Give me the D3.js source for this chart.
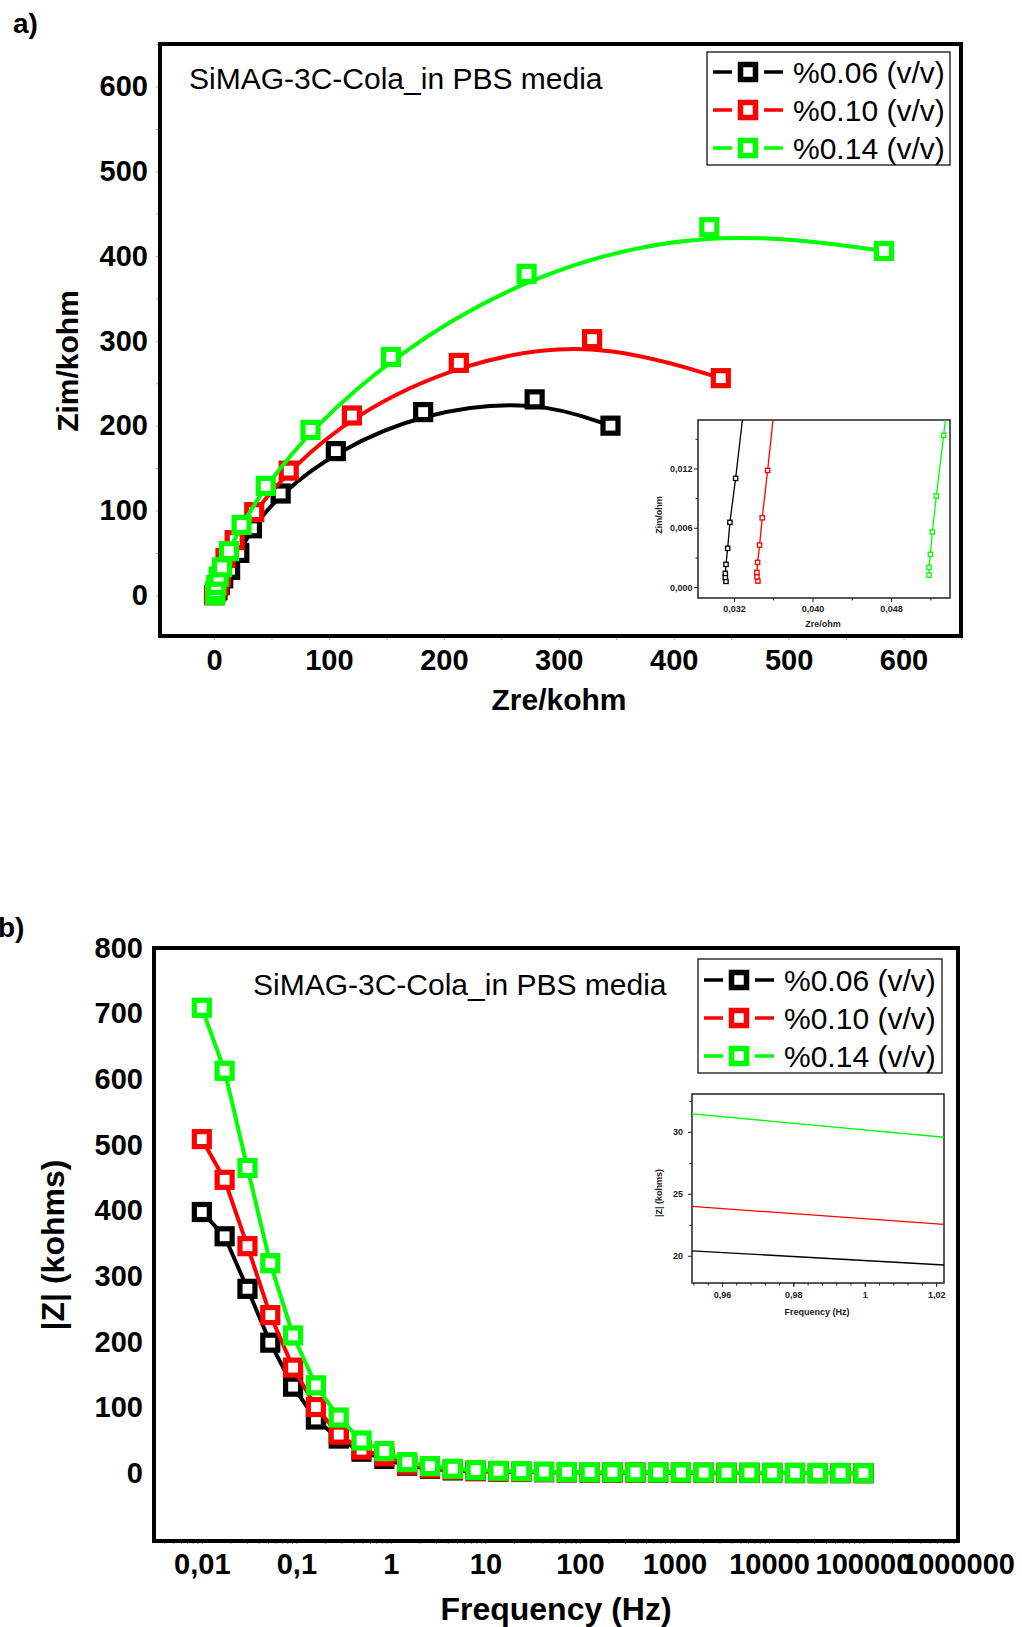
<!DOCTYPE html>
<html>
<head>
<meta charset="utf-8">
<script src="https://cdn.jsdelivr.net/npm/d3@7/dist/d3.min.js"></script>
<style>
  body { margin: 0; background: #fff; }
  svg text { font-family: "Liberation Sans", Arial, sans-serif; }
</style>
</head>
<body>
<div class="chart"></div>
<script>
// series shared by both panels
var seriesNames = ["%0.06 (v/v)", "%0.10 (v/v)", "%0.14 (v/v)"];
var colors = ["#000000", "#ff0000", "#00ff00"];
var titleText = "SiMAG-3C-Cola_in PBS media";

// panel a: Nyquist, kohm
var zre006 = [1, 3, 5, 8, 14, 22, 33, 58, 106, 182, 279, 345];
var zim006 = [2, 6, 12, 20, 30, 50, 79, 120, 170, 216, 231, 200];
var zre010 = [0, 2, 4, 6, 10, 18, 35, 65, 120, 213, 329, 441];
var zim010 = [0, 5, 12, 22, 44, 65, 98, 147, 212, 274, 302, 256];
var zre014 = [1, 1, 2, 4, 7, 13, 24, 45, 84, 154, 272, 431, 583];
var zim014 = [0, 5, 12, 22, 33, 52, 83, 129, 195, 281, 379, 434, 406];
var ticksA = [0, 100, 200, 300, 400, 500, 600];

// panel a inset: high frequency end, ohm
var insRe006 = [0.03119, 0.03112, 0.03112, 0.03119, 0.03136, 0.03159, 0.03217, 0.0334];
var insIm006 = [0.00058, 0.00098, 0.00139, 0.00230, 0.00392, 0.00655, 0.0110, 0.0215];
var insRe010 = [0.03444, 0.03434, 0.03434, 0.03441, 0.03461, 0.03488, 0.03543, 0.0363];
var insIm010 = [0.00061, 0.00104, 0.00149, 0.00250, 0.00425, 0.00701, 0.0118, 0.0200];
var insRe014 = [0.05186, 0.05186, 0.05200, 0.05220, 0.05261, 0.05335, 0.0540];
var insIm014 = [0.00121, 0.00199, 0.00331, 0.00557, 0.00921, 0.01535, 0.0210];
var insTicksAx = [0.032, 0.040, 0.048];
var insTicksAy = [0, 0.006, 0.012];

// panel b: Bode |Z|, kohms
var freq = [0.01, 0.01743, 0.03039, 0.05298, 0.09237, 0.1610, 0.2807, 0.4894, 0.8532, 1.487,
            2.593, 4.520, 7.880, 13.74, 23.95, 41.75, 72.79, 126.9, 221.2, 385.7,
            672.4, 1172, 2043, 3562, 6210, 10826, 18874, 32903, 57362, 100000];
var mod006 = [398, 361, 281, 199, 132, 82, 53, 33, 22.0, 11.7,
              7, 4.5, 3.3, 2.6, 2.1, 1.8, 1.5, 1.3, 1.1, 1.0,
              0.9, 0.8, 0.7, 0.6, 0.55, 0.5, 0.45, 0.4, 0.35, 0.3];
var mod010 = [509, 447, 346, 241, 161, 101, 59, 36, 26.0, 13.0,
              8, 5.5, 4, 3, 2.5, 2.1, 1.8, 1.5, 1.3, 1.2,
              1.1, 1.0, 0.9, 0.8, 0.7, 0.6, 0.55, 0.5, 0.45, 0.4];
var mod014 = [709, 613, 465, 320, 210, 134, 85, 50, 34.1, 17.1,
              11, 7, 5, 4, 3.2, 2.6, 2.2, 1.9, 1.7, 1.5,
              1.4, 1.3, 1.2, 1.1, 1.0, 0.9, 0.8, 0.7, 0.6, 0.5];
var ticksBy = [0, 100, 200, 300, 400, 500, 600, 700, 800];
var ticksBx = [0.01, 0.1, 1, 10, 100, 1000, 10000, 100000, 1000000];
var ticksBxLabels = ["0,01", "0,1", "1", "10", "100", "1000", "10000", "100000", "1000000"];
var insTicksBx = [0.96, 0.98, 1.00, 1.02];
var insTicksBxLabels = ["0,96", "0,98", "1", "1,02"];
var insTicksBy = [20, 25, 30];

var comma = function (f) { return function (d) { return d3.format(f)(d).replace(".", ","); }; };

var svg = d3.select(".chart").append("svg")
  .attr("width", 1022).attr("height", 1627)
  .style("background", "#fff");

var defs = svg.append("defs");

function squares(g, pts, color, size, sw) {
  g.selectAll(null).data(pts).enter().append("rect")
    .attr("x", function (d) { return d[0] - size / 2; })
    .attr("y", function (d) { return d[1] - size / 2; })
    .attr("width", size).attr("height", size)
    .attr("fill", "#fff").attr("stroke", color).attr("stroke-width", sw);
}

function legend(x0, y0, w, h, rowY) {
  var lg = svg.append("g");
  lg.append("rect").attr("x", x0).attr("y", y0).attr("width", w).attr("height", h)
    .attr("fill", "#fff").attr("stroke", "#000").attr("stroke-width", 1.2);
  seriesNames.forEach(function (name, i) {
    var cy = y0 + rowY[i];
    // dash - marker - dash
    [[x0 + 6, x0 + 25], [x0 + 57, x0 + 76]].forEach(function (seg) {
      lg.append("line").attr("x1", seg[0]).attr("x2", seg[1]).attr("y1", cy).attr("y2", cy)
        .attr("stroke", colors[i]).attr("stroke-width", 3.5);
    });
    squares(lg, [[x0 + 41, cy]], colors[i], 15, 5.5);
    lg.append("text").attr("x", x0 + 86).attr("y", cy).attr("dy", "0.36em")
      .attr("font-size", 30).text(name);
  });
}

// =================== panel a ===================
var xA = d3.scaleLinear().domain([-47, 650]).range([160, 961]);
var yA = d3.scaleLinear().domain([-48, 650]).range([636, 44]);

svg.append("text").attr("x", 13).attr("y", 33).attr("font-size", 28).attr("font-weight", "bold").text("a)");

// minor ticks
svg.append("g").attr("transform", "translate(0,636)")
  .call(d3.axisBottom(xA).tickValues(d3.range(0, 651, 50)).tickSize(4).tickFormat(""))
  .call(function (g) { g.select(".domain").remove(); g.selectAll("line").attr("stroke", "#aaa"); });
svg.append("g").attr("transform", "translate(160,0)")
  .call(d3.axisLeft(yA).tickValues(d3.range(0, 651, 50)).tickSize(4).tickFormat(""))
  .call(function (g) { g.select(".domain").remove(); g.selectAll("line").attr("stroke", "#aaa"); });

svg.append("g").attr("transform", "translate(0,636)")
  .call(d3.axisBottom(xA).tickValues(ticksA).tickSize(0).tickPadding(13))
  .call(function (g) {
    g.select(".domain").remove();
    g.selectAll("text").attr("font-size", 29).attr("font-weight", "bold").attr("fill", "#000")
      .attr("font-family", "Liberation Sans, Arial, sans-serif");
  });
svg.append("g").attr("transform", "translate(160,0)")
  .call(d3.axisLeft(yA).tickValues(ticksA).tickSize(0).tickPadding(12))
  .call(function (g) {
    g.select(".domain").remove();
    g.selectAll("text").attr("font-size", 29).attr("font-weight", "bold").attr("fill", "#000")
      .attr("font-family", "Liberation Sans, Arial, sans-serif");
  });

svg.append("rect").attr("x", 160).attr("y", 44).attr("width", 801).attr("height", 592)
  .attr("fill", "none").attr("stroke", "#000").attr("stroke-width", 4);

svg.append("text").attr("x", 559).attr("y", 710).attr("text-anchor", "middle")
  .attr("font-size", 30).attr("font-weight", "bold").text("Zre/kohm");
svg.append("text").attr("transform", "translate(67,361) rotate(-90)").attr("text-anchor", "middle")
  .attr("dy", "0.36em").attr("font-size", 30).attr("font-weight", "bold").text("Zim/kohm");

svg.append("text").attr("x", 189).attr("y", 89).attr("font-size", 30).text(titleText);

var seriesA = [[zre006, zim006], [zre010, zim010], [zre014, zim014]];
var lineA = d3.line().x(function (d) { return xA(d[0]); }).y(function (d) { return yA(d[1]); })
  .curve(d3.curveBasis);
var plotA = svg.append("g");
seriesA.forEach(function (s, i) {
  var pts = s[0].map(function (v, j) { return [v, s[1][j]]; });
  var g = plotA.append("g");
  g.append("path").attr("d", lineA(pts)).attr("fill", "none")
    .attr("stroke", colors[i]).attr("stroke-width", 4);
  squares(g, pts.map(function (p) { return [xA(p[0]), yA(p[1])]; }), colors[i], 15, 5.2);
});

legend(707, 52, 243, 113, [20, 58, 96]);

// inset a
var xIa = d3.scaleLinear().domain([0.02834, 0.0540]).range([698, 950]);
var yIa = d3.scaleLinear().domain([-0.0011, 0.0169]).range([598, 420]);
defs.append("clipPath").attr("id", "clipIa").append("rect")
  .attr("x", 698).attr("y", 420).attr("width", 252).attr("height", 178);
var insA = svg.append("g");
insA.append("rect").attr("x", 698).attr("y", 420).attr("width", 252).attr("height", 178)
  .attr("fill", "#fff");
insA.append("g").attr("transform", "translate(0,598)")
  .call(d3.axisBottom(xIa).tickValues([0.036, 0.044, 0.052]).tickSize(2.5).tickFormat(""));
insA.append("g").attr("transform", "translate(698,0)")
  .call(d3.axisLeft(yIa).tickValues([0.003, 0.009, 0.015]).tickSize(2.5).tickFormat(""));
insA.append("g").attr("transform", "translate(0,598)")
  .call(d3.axisBottom(xIa).tickValues(insTicksAx).tickSize(4).tickPadding(4).tickFormat(comma(".3f")));
insA.append("g").attr("transform", "translate(698,0)")
  .call(d3.axisLeft(yIa).tickValues(insTicksAy).tickSize(4).tickPadding(1.5).tickFormat(comma(".3f")));
insA.selectAll(".domain").remove();
insA.selectAll("text").attr("font-size", 9).attr("font-weight", "bold").attr("fill", "#222")
  .attr("font-family", "Liberation Sans, Arial, sans-serif");
insA.selectAll(".tick line").attr("stroke", "#222");
insA.append("rect").attr("x", 698).attr("y", 420).attr("width", 252).attr("height", 178)
  .attr("fill", "none").attr("stroke", "#222").attr("stroke-width", 1.5);
insA.append("text").attr("x", 823).attr("y", 627).attr("text-anchor", "middle")
  .attr("font-size", 9).attr("font-weight", "bold").attr("fill", "#222").text("Zre/ohm");
insA.append("text").attr("transform", "translate(662,515) rotate(-90)").attr("text-anchor", "middle")
  .attr("font-size", 9).attr("font-weight", "bold").attr("fill", "#222").text("Zim/ohm");

var seriesIa = [[insRe006, insIm006], [insRe010, insIm010], [insRe014, insIm014]];
var lineIa = d3.line().x(function (d) { return xIa(d[0]); }).y(function (d) { return yIa(d[1]); });
var plotIa = insA.append("g").attr("clip-path", "url(#clipIa)");
seriesIa.forEach(function (s, i) {
  var pts = s[0].map(function (v, j) { return [v, s[1][j]]; });
  plotIa.append("path").attr("d", lineIa(pts)).attr("fill", "none")
    .attr("stroke", colors[i]).attr("stroke-width", 1.3);
  squares(plotIa, pts.map(function (p) { return [xIa(p[0]), yIa(p[1])]; }), colors[i], 4.3, 1.3);
});

// =================== panel b ===================
var xB = d3.scaleLog().domain([Math.pow(10, -2.506), 1e6]).range([154, 958]);
var yB = d3.scaleLinear().domain([-103, 800]).range([1541, 948]);

svg.append("text").attr("x", -2).attr("y", 937).attr("font-size", 28).attr("font-weight", "bold").text("b)");

var minorB = [];
ticksBx.forEach(function (d) { for (var m = 1; m < 10; m++) { if (d * m < 1e6 && d * m > xB.domain()[0]) minorB.push(d * m); } });
minorB.push(0.004, 0.005, 0.006, 0.007, 0.008, 0.009);
svg.append("g").attr("transform", "translate(0,1541)")
  .call(d3.axisBottom(xB).tickValues(minorB).tickSize(3).tickFormat(""))
  .call(function (g) { g.select(".domain").remove(); g.selectAll("line").attr("stroke", "#777"); });

svg.append("g").attr("transform", "translate(0,1541)")
  .call(d3.axisBottom(xB).tickValues(ticksBx).tickSize(0).tickPadding(12)
    .tickFormat(function (d, i) { return ticksBxLabels[i]; }))
  .call(function (g) {
    g.select(".domain").remove();
    g.selectAll("text").attr("font-size", 29).attr("font-weight", "bold").attr("fill", "#000")
      .attr("font-family", "Liberation Sans, Arial, sans-serif");
  });
svg.append("g").attr("transform", "translate(154,0)")
  .call(d3.axisLeft(yB).tickValues(ticksBy).tickSize(0).tickPadding(11))
  .call(function (g) {
    g.select(".domain").remove();
    g.selectAll("text").attr("font-size", 29).attr("font-weight", "bold").attr("fill", "#000")
      .attr("font-family", "Liberation Sans, Arial, sans-serif");
  });

svg.append("rect").attr("x", 154).attr("y", 948).attr("width", 804).attr("height", 593)
  .attr("fill", "none").attr("stroke", "#000").attr("stroke-width", 4);

svg.append("text").attr("x", 556).attr("y", 1620).attr("text-anchor", "middle")
  .attr("font-size", 32).attr("font-weight", "bold").text("Frequency (Hz)");
svg.append("text").attr("transform", "translate(52,1245) rotate(-90)").attr("text-anchor", "middle")
  .attr("dy", "0.36em").attr("font-size", 32).attr("font-weight", "bold").text("|Z| (kohms)");

svg.append("text").attr("x", 253).attr("y", 995).attr("font-size", 30).text(titleText);

var seriesB = [mod006, mod010, mod014];
var lineB = d3.line().x(function (d) { return xB(d[0]); }).y(function (d) { return yB(d[1]); });
var plotB = svg.append("g");
seriesB.forEach(function (s, i) {
  var pts = freq.map(function (f, j) { return [f, s[j]]; });
  var g = plotB.append("g");
  g.append("path").attr("d", lineB(pts)).attr("fill", "none")
    .attr("stroke", colors[i]).attr("stroke-width", 4);
  squares(g, pts.map(function (p) { return [xB(p[0]), yB(p[1])]; }), colors[i], 15, 5.2);
});

legend(698, 959, 244, 114, [21, 59, 97]);

// inset b: zoom around 1 Hz, same data on linear axes
var xIb = d3.scaleLinear().domain([0.9516, 1.0222]).range([692, 944]);
var yIb = d3.scaleLinear().domain([17.8, 33.06]).range([1283, 1094]);
defs.append("clipPath").attr("id", "clipIb").append("rect")
  .attr("x", 692).attr("y", 1094).attr("width", 252).attr("height", 189);
var insB = svg.append("g");
insB.append("rect").attr("x", 692).attr("y", 1094).attr("width", 252).attr("height", 189)
  .attr("fill", "#fff");
insB.append("g").attr("transform", "translate(0,1283)")
  .call(d3.axisBottom(xIb).tickValues(d3.range(0.952, 1.0225, 0.004)).tickSize(2.5).tickFormat(""));
insB.append("g").attr("transform", "translate(692,0)")
  .call(d3.axisLeft(yIb).tickValues([22.5, 27.5, 32.5]).tickSize(2.5).tickFormat(""));
insB.append("g").attr("transform", "translate(0,1283)")
  .call(d3.axisBottom(xIb).tickValues(insTicksBx).tickSize(4).tickPadding(4.5)
    .tickFormat(function (d, i) { return insTicksBxLabels[i]; }));
insB.append("g").attr("transform", "translate(692,0)")
  .call(d3.axisLeft(yIb).tickValues(insTicksBy).tickSize(4).tickPadding(5));
insB.selectAll(".domain").remove();
insB.selectAll("text").attr("font-size", 9).attr("font-weight", "bold").attr("fill", "#222")
  .attr("font-family", "Liberation Sans, Arial, sans-serif");
insB.selectAll(".tick line").attr("stroke", "#222");
insB.append("rect").attr("x", 692).attr("y", 1094).attr("width", 252).attr("height", 189)
  .attr("fill", "none").attr("stroke", "#222").attr("stroke-width", 1.5);
insB.append("text").attr("x", 817).attr("y", 1315).attr("text-anchor", "middle")
  .attr("font-size", 9).attr("font-weight", "bold").attr("fill", "#222").text("Frequency (Hz)");
insB.append("text").attr("transform", "translate(662,1193) rotate(-90)").attr("text-anchor", "middle")
  .attr("font-size", 9).attr("font-weight", "bold").attr("fill", "#222").text("|Z| (kohms)");

var lineIb = d3.line().x(function (d) { return xIb(d[0]); }).y(function (d) { return yIb(d[1]); });
var plotIb = insB.append("g").attr("clip-path", "url(#clipIb)");
seriesB.forEach(function (s, i) {
  var pts = freq.map(function (f, j) { return [f, s[j]]; })
    .filter(function (p) { return p[0] > 0.5 && p[0] < 2; });
  plotIb.append("path").attr("d", lineIb(pts)).attr("fill", "none")
    .attr("stroke", colors[i]).attr("stroke-width", 1.3);
});
</script>
</body>
</html>
